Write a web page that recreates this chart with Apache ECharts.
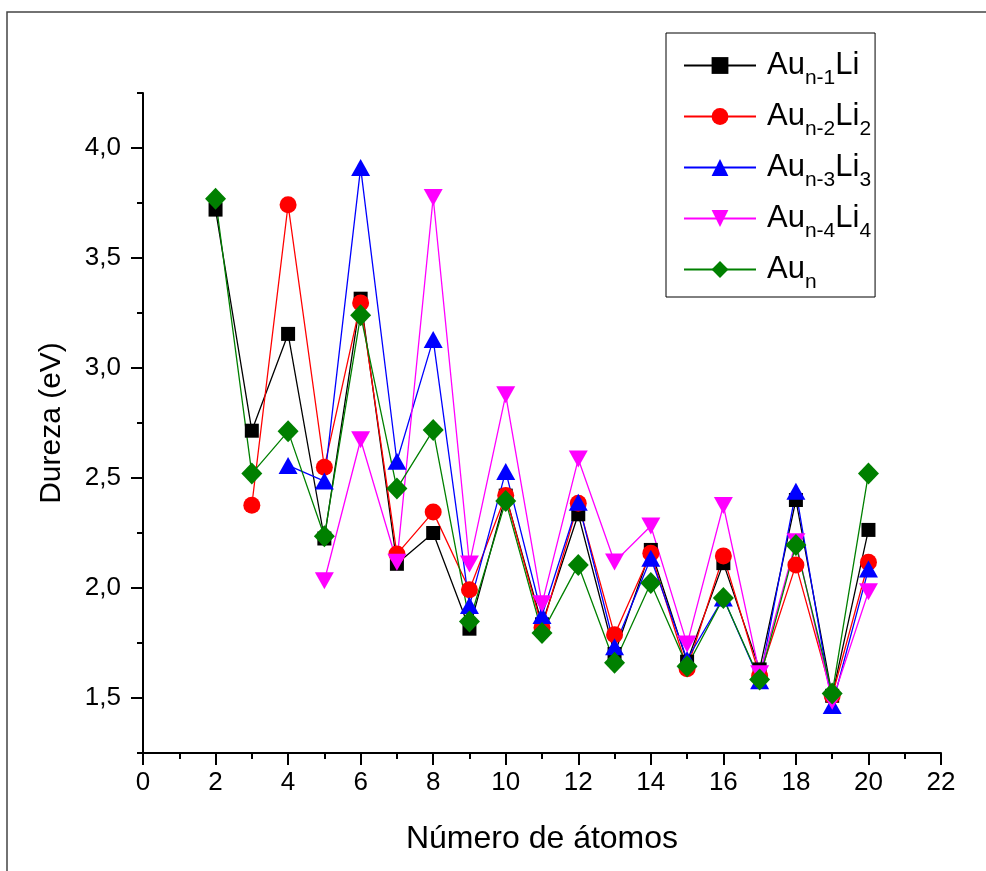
<!DOCTYPE html>
<html>
<head>
<meta charset="utf-8">
<script src="https://cdn.jsdelivr.net/npm/echarts@6/dist/echarts.min.js"></script>
<style>
html, body { margin: 0; padding: 0; background: #fff; }
#chart { width: 986px; height: 871px; }
</style>
</head>
<body>
<div id="chart"></div>
<script>
// número de átomos (n)
var atoms = [2, 3, 4, 5, 6, 7, 8, 9, 10, 11, 12, 13, 14, 15, 16, 17, 18, 19, 20];

// dureza (eV) para cada família, null = sin dato
var aun1Li  = [3.72, 2.715, 3.155, 2.225, 3.315, 2.11, 2.25, 1.815, 2.42, 1.835, 2.335, 1.70, 2.173, 1.665, 2.113, 1.63, 2.40, 1.51, 2.264];
var aun2Li2 = [null, 2.376, 3.742, 2.549, 3.296, 2.154, 2.345, 1.992, 2.42, 1.82, 2.385, 1.787, 2.158, 1.633, 2.146, 1.60, 2.105, 1.51, 2.117];
var aun3Li3 = [null, null, 2.557, 2.486, 3.911, 2.576, 3.13, 1.92, 2.53, 1.875, 2.39, 1.733, 2.135, 1.675, 1.955, 1.578, 2.44, 1.466, 2.086];
var aun4Li4 = [null, null, null, 2.033, 2.674, 2.117, 3.775, 2.109, 2.878, 1.928, 2.586, 2.118, 2.282, 1.745, 2.375, 1.61, 2.21, 1.485, 1.983];
var aun     = [3.769, 2.52, 2.712, 2.235, 3.24, 2.452, 2.718, 1.848, 2.395, 1.796, 2.105, 1.66, 2.023, 1.644, 1.955, 1.584, 2.196, 1.52, 2.52];

var seriesNames = ['Au(n-1)Li', 'Au(n-2)Li2', 'Au(n-3)Li3', 'Au(n-4)Li4', 'Au(n)'];
var legendText = {
  'Au(n-1)Li': '{m|Au}{s|n-1}{m|Li}',
  'Au(n-2)Li2': '{m|Au}{s|n-2}{m|Li}{s|2}',
  'Au(n-3)Li3': '{m|Au}{s|n-3}{m|Li}{s|3}',
  'Au(n-4)Li4': '{m|Au}{s|n-4}{m|Li}{s|4}',
  'Au(n)': '{m|Au}{s|n}'
};

var yMajor = [1.5, 2.0, 2.5, 3.0, 3.5, 4.0];
var yMinor = [1.25, 1.75, 2.25, 2.75, 3.25, 3.75, 4.25];

function pairs (values) {
  var out = [];
  values.forEach(function (v, i) {
    if (v !== null) out.push([atoms[i], v]);
  });
  return out;
}

function makeSeries (name, values, color, symbol, size) {
  return {
    name: name,
    type: 'line',
    data: pairs(values),
    symbol: symbol,
    symbolSize: size,
    lineStyle: { color: color, width: 1.3 },
    itemStyle: { color: color },
    animation: false
  };
}

var font = 'Liberation Sans, Arial, sans-serif';

var option = {
  backgroundColor: '#fff',
  grid: { left: 143, right: 45, top: 93, bottom: 118 },
  graphic: [
    {
      type: 'polyline',
      shape: { points: [[7, 871], [7, 12], [986, 12]] },
      style: { stroke: '#444', lineWidth: 1.5, fill: null }
    }
  ],
  legend: {
    orient: 'vertical',
    left: 666,
    top: 33,
    padding: [17, 4, 4, 17],
    itemGap: 12,
    itemWidth: 72,
    itemHeight: 21,
    borderColor: '#000',
    borderWidth: 1,
    data: seriesNames,
    formatter: function (name) { return legendText[name]; },
    textStyle: {
      padding: [0, 0, 0, 6],
      rich: {
        m: { fontSize: 31, fontFamily: font, color: '#000', lineHeight: 40 },
        s: { fontSize: 21, fontFamily: font, color: '#000', padding: [26, 0, 0, 0] }
      }
    }
  },
  xAxis: {
    type: 'value',
    min: 0,
    max: 22,
    interval: 2,
    name: 'Número de átomos',
    nameLocation: 'middle',
    nameGap: 70,
    nameTextStyle: { fontSize: 32, fontFamily: font, color: '#000' },
    axisLine: { show: true, onZero: false, lineStyle: { color: '#000', width: 2 } },
    axisTick: { show: true, inside: false, length: 12, lineStyle: { color: '#000', width: 2 } },
    minorTick: { show: true, splitNumber: 2, length: 6, lineStyle: { color: '#000', width: 2 } },
    axisLabel: { fontSize: 26, fontFamily: font, color: '#000', margin: 17 },
    splitLine: { show: false }
  },
  yAxis: [
    {
      type: 'value',
      min: 1.25,
      max: 4.25,
      position: 'left',
      name: 'Dureza (eV)',
      nameLocation: 'middle',
      nameGap: 76,
      nameTextStyle: { fontSize: 30, fontFamily: font, color: '#000' },
      axisLine: { show: true, onZero: false, lineStyle: { color: '#000', width: 2 } },
      axisTick: { show: true, length: 12, customValues: yMajor, lineStyle: { color: '#000', width: 2 } },
      axisLabel: {
        fontSize: 26, fontFamily: font, color: '#000', margin: 22,
        customValues: yMajor,
        formatter: function (v) { return v.toFixed(1).replace('.', ','); }
      },
      splitLine: { show: false }
    },
    {
      type: 'value',
      min: 1.25,
      max: 4.25,
      position: 'left',
      axisLine: { show: false },
      axisTick: { show: true, length: 6, customValues: yMinor, lineStyle: { color: '#000', width: 2 } },
      axisLabel: { show: false },
      splitLine: { show: false }
    }
  ],
  series: [
    makeSeries(seriesNames[0], aun1Li, '#000000', 'rect', 14),
    makeSeries(seriesNames[1], aun2Li2, '#ff0000', 'circle', 17),
    makeSeries(seriesNames[2], aun3Li3, '#0000ff', 'triangle', [19, 17]),
    makeSeries(seriesNames[3], aun4Li4, '#ff00ff', 'path://M0,0L20,0L10,18Z', [19, 17]),
    makeSeries(seriesNames[4], aun, '#008000', 'diamond', [21, 22])
  ]
};

var chart = echarts.init(document.getElementById('chart'), null, { renderer: 'canvas' });
chart.setOption(option);
</script>
</body>
</html>
